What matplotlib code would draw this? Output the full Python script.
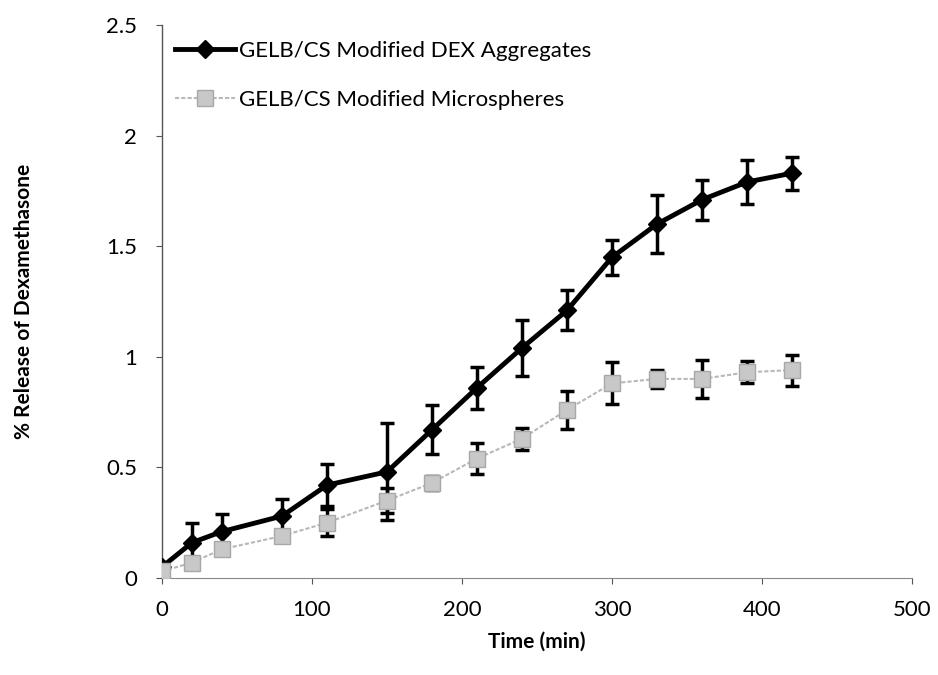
import matplotlib
matplotlib.use("Agg")
import matplotlib.pyplot as plt
from matplotlib.lines import Line2D

time_min = [0, 20, 40, 80, 110, 150, 180, 210, 240, 270, 300, 330, 360, 390, 420]
dex_aggregates = [0.05, 0.16, 0.21, 0.28, 0.42, 0.48, 0.67, 0.86, 1.04, 1.21, 1.45, 1.60, 1.71, 1.79, 1.83]
dex_aggregates_err = [0.02, 0.09, 0.08, 0.075, 0.095, 0.22, 0.11, 0.095, 0.125, 0.09, 0.08, 0.13, 0.09, 0.10, 0.075]
microspheres = [0.03, 0.07, 0.13, 0.19, 0.25, 0.35, 0.43, 0.54, 0.63, 0.76, 0.88, 0.90, 0.90, 0.93, 0.94]
microspheres_err = [0.01, 0.01, 0.01, 0.01, 0.06, 0.055, 0.03, 0.07, 0.05, 0.085, 0.095, 0.04, 0.085, 0.05, 0.07]

series_labels = ['GELB/CS Modified DEX Aggregates', 'GELB/CS Modified Microspheres']
x_ticks = [0, 100, 200, 300, 400, 500]
y_ticks = [0, 0.5, 1, 1.5, 2, 2.5]
y_tick_labels = ["0", "0.5", "1", "1.5", "2", "2.5"]

plt.rcParams['font.family'] = ['Lato', 'DejaVu Sans']

fig = plt.figure(figsize=(9.38, 6.75), dpi=100)
ax = fig.add_axes([0.1727, 0.1437, 0.7996, 0.8193])

dark_style = dict(color='black', linewidth=3.5, marker='D', markersize=9,
                  markerfacecolor='black', markeredgecolor='black')
gray_style = dict(color='#b8b8b8', linewidth=1.5, linestyle=(0, (2, 1)), marker='s',
                  markersize=12, markerfacecolor='#c8c8c8', markeredgecolor='#a8a8a8')

ax.errorbar(time_min, dex_aggregates, yerr=dex_aggregates_err, ecolor='black',
            elinewidth=2.5, capsize=5, capthick=2.5, zorder=3, **dark_style)
ax.errorbar(time_min, microspheres, yerr=microspheres_err, ecolor='black',
            elinewidth=2.5, capsize=5, capthick=2.5, zorder=4, **gray_style)

ax.set_xlim(0, 500)
ax.set_ylim(0, 2.5)
ax.set_xticks(x_ticks)
ax.set_yticks(y_ticks)
ax.set_yticklabels(y_tick_labels)
ax.tick_params(axis='both', labelsize=16, direction='out', length=4, width=0.8, colors='#555555', labelcolor='black')
ax.tick_params(axis='y', pad=14)
ax.tick_params(axis='x', pad=12)

for s in ['top', 'right']:
    ax.spines[s].set_visible(False)
ax.spines['left'].set_color('#555555')
ax.spines['bottom'].set_color('#888888')
ax.spines['left'].set_linewidth(1.0)
ax.spines['bottom'].set_linewidth(0.8)

ax.set_xlabel('Time (min)', fontsize=15, fontweight='bold', labelpad=8)
ax.set_ylabel('% Release of Dexamethasone', fontsize=15, fontweight='bold', labelpad=52)

handles = [Line2D([], [], **dark_style), Line2D([], [], **gray_style)]
ax.legend(handles, series_labels, loc='upper left', bbox_to_anchor=(0.0, 0.995), frameon=False,
          fontsize=16, labelspacing=1.3, handlelength=2.7, handletextpad=0.15, borderaxespad=0.2)

fig.savefig('out.png', dpi=100, facecolor='white')
